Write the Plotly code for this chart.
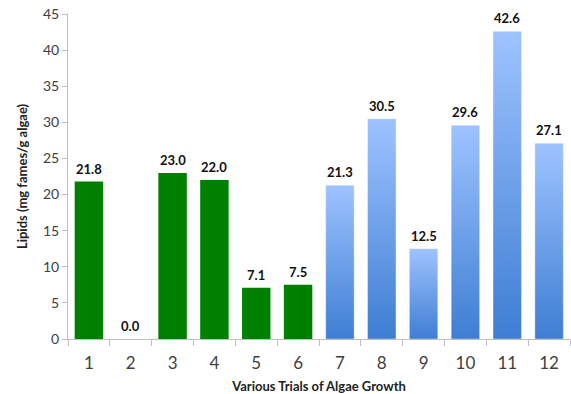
import plotly.graph_objects as go

# Lipid yield for each trial of algae growth
trials = [1, 2, 3, 4, 5, 6, 7, 8, 9, 10, 11, 12]
lipids = [21.8, 0.0, 23.0, 22.0, 7.1, 7.5, 21.3, 30.5, 12.5, 29.6, 42.6, 27.1]
tick_labels = [str(t) for t in trials]
y_ticks = [0, 5, 10, 15, 20, 25, 30, 35, 40, 45]

green_trials = trials[:6]
green_values = lipids[:6]
blue_trials = trials[6:]
blue_values = lipids[6:]

BAR_WIDTH = 0.68
GREEN = "#008000"
BLUE_TOP = "#9EC3FF"
BLUE_BOTTOM = "#3E7ED3"
TEXT = "#404040"
AXIS = "#BFBFBF"
FONT = "Lato, 'Open Sans', sans-serif"

fig = go.Figure()

# Solid green bars for trials 1-6
fig.add_trace(go.Bar(
    x=green_trials, y=green_values, width=BAR_WIDTH,
    marker=dict(color=GREEN, line=dict(width=0)),
    showlegend=False, hoverinfo="x+y",
))

# Blue bars for trials 7-12, each with its own vertical gradient
for t, v in zip(blue_trials, blue_values):
    x0, x1 = t - BAR_WIDTH / 2, t + BAR_WIDTH / 2
    fig.add_trace(go.Scatter(
        x=[x0, x0, x1, x1, x0], y=[0, v, v, 0, 0],
        mode="lines", line=dict(width=0.6, color="rgba(255,255,255,0.6)"),
        fill="toself",
        fillgradient=dict(type="vertical",
                          colorscale=[[0, BLUE_BOTTOM], [1, BLUE_TOP]],
                          start=0, stop=v),
        showlegend=False, hoverinfo="skip",
    ))

# Value labels above every bar
for t, v in zip(trials, lipids):
    fig.add_annotation(
        x=t, y=v, text=f"<b>{v:.1f}</b>", showarrow=False,
        yanchor="bottom", yshift=3,
        font=dict(family=FONT, size=13, color="#111111"),
    )

fig.update_layout(
    width=571, height=394,
    margin=dict(l=68, r=1, t=14, b=55),
    paper_bgcolor="white", plot_bgcolor="white",
    font=dict(family=FONT, color=TEXT),
    bargap=0.32,
)

fig.update_xaxes(
    range=[0.5, 12.5],
    tickmode="array", tickvals=trials, ticktext=tick_labels,
    ticks="", tickfont=dict(size=17, color=TEXT),
    ticklabelstandoff=9,
    showline=True, linecolor=AXIS, linewidth=1,
    showgrid=False, zeroline=False,
    minor=dict(ticks="outside", tick0=0.5, dtick=1, ticklen=6,
               tickcolor=AXIS, showgrid=False),
    title=dict(text="<b>Various Trials of Algae Growth</b>",
               font=dict(size=13, color="#222222"), standoff=9),
)

fig.update_yaxes(
    range=[0, 45],
    tickmode="array", tickvals=y_ticks,
    ticks="outside", ticklen=5, tickcolor=AXIS,
    tickfont=dict(size=14, color=TEXT),
    showline=True, linecolor=AXIS, linewidth=1,
    showgrid=False, zeroline=False,
    title=dict(text="<b>Lipids (mg fames/g algae)</b>",
               font=dict(size=13, color="#222222"), standoff=12),
)

fig.write_html("out.html")
